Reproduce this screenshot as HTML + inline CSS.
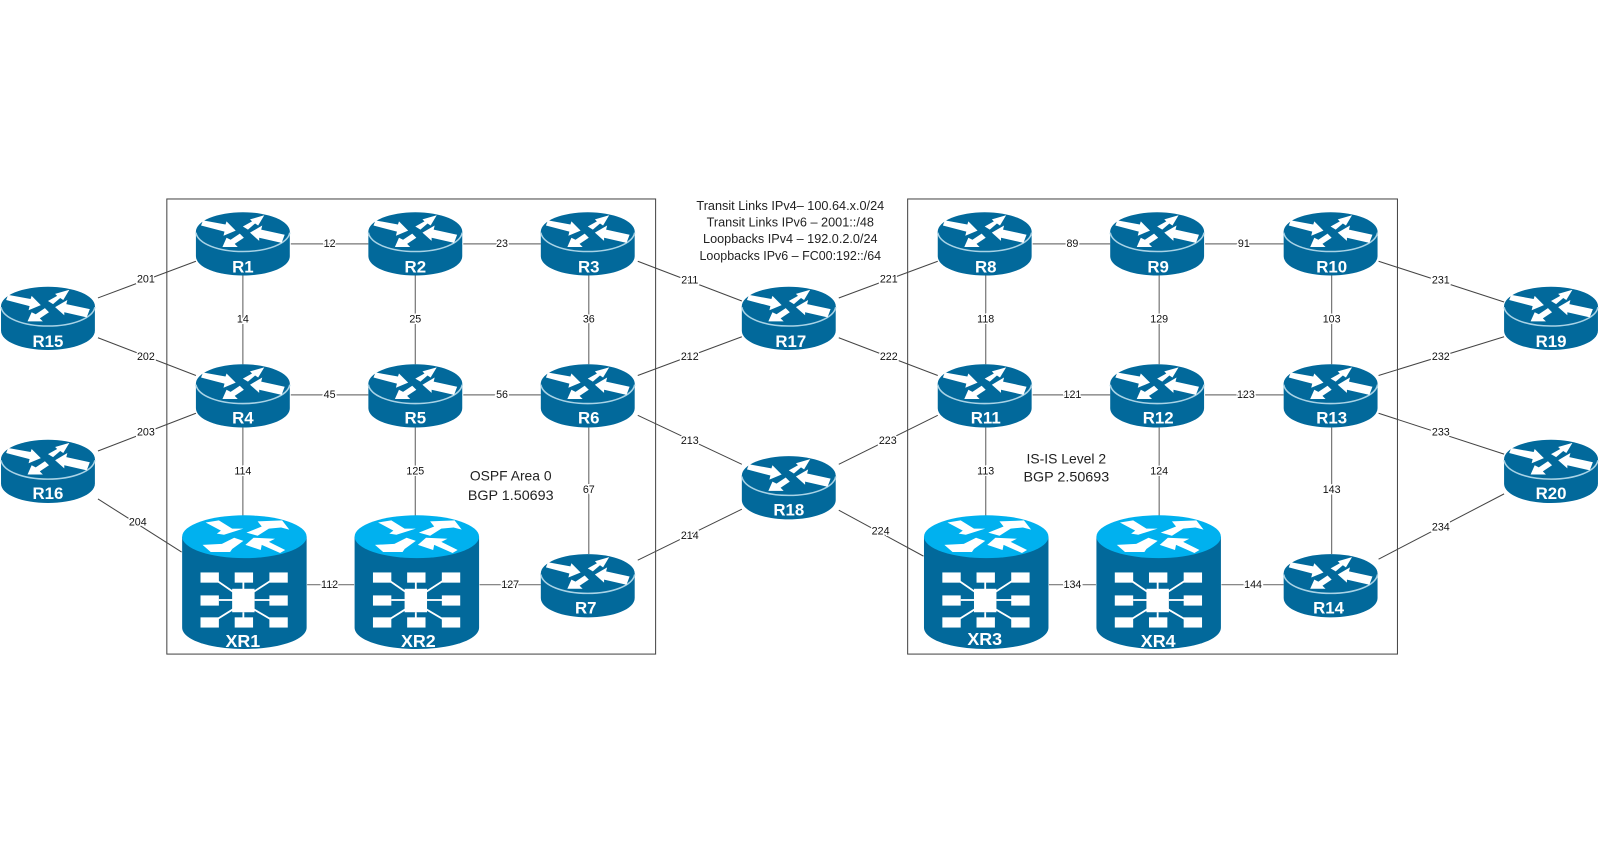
<!DOCTYPE html>
<html><head><meta charset="utf-8"><style>
html,body{margin:0;padding:0;background:#fff;width:1600px;height:850px;overflow:hidden}
svg{display:block}
.l line{stroke:#444;stroke-width:1}
.v line{stroke:#777;stroke-width:1.2}
.n text{font:10.5px "Liberation Sans",sans-serif;fill:#111;text-anchor:middle;stroke:#fff;stroke-width:3px;paint-order:stroke}
.t text{font:12.2px "Liberation Sans",sans-serif;fill:#222;text-anchor:middle}
.a text{font:13.6px "Liberation Sans",sans-serif;fill:#222;text-anchor:middle}
.r text{font:bold 16.5px "Liberation Sans",sans-serif;fill:#fff;text-anchor:middle}
.r text.x{font-size:17.5px}
</style></head><body>
<svg xmlns="http://www.w3.org/2000/svg" width="1600" height="850" viewBox="0 0 1568 833">
<defs>
<symbol id="rt" viewBox="0 0 92 62" width="92" height="62" overflow="visible">
<path d="M0,19V43C0,54 21,62 46,62S92,54 92,43V19Z" fill="#02699b"/>
<ellipse cx="46" cy="19" rx="46" ry="19" fill="#02699b" />
<path d="M0,20C2,31 22,38.500 46,38.500S90,31 92,20" fill="none" stroke="#a9d3e6" stroke-width="1.500"/>
<g fill="#fff">
<polygon points="5,13 7,8 29,12 30,9 39,18 27,23 28,19"/>
<polygon points="46,14 55,9 53,7 67,3 61,13 58,11 51,17"/>
<polygon points="53,20 65,13 64,17 87,22 84,30 62,25 62,28"/>
<polygon points="26,34 30,25 34,27 43,21 47,25 38,31 41,34"/>
</g>
</symbol>
<symbol id="xr" viewBox="0 0 122 131" width="122" height="131" overflow="visible">
<path d="M0,21V110C0,122 27,131 61,131S122,122 122,110V21Z" fill="#02699b"/>
<ellipse cx="61" cy="21" rx="61" ry="21" fill="#00b1ef"/>
<g fill="#fff">
<polygon points="23,7 36,5 49,13 60,13 41,19 34,18 38,15"/>
<polygon points="74,6 98,5 105,14 97,12 85,13 74,20 63,17 78,11"/>
<polygon points="20,29 39,28 51,22 60,25 49,33 47,36 28,36"/>
<polygon points="62,29 70,22 91,23 85,26 101,34 96,37 78,29 77,34"/>
<rect x="18" y="56" width="18" height="10"/><rect x="51.500" y="56" width="18" height="10"/><rect x="85.500" y="56" width="18" height="10"/>
<rect x="18" y="78.500" width="18" height="10"/><rect x="85.500" y="78.500" width="18" height="10"/>
<rect x="18" y="100" width="18" height="10"/><rect x="51.500" y="100" width="18" height="10"/><rect x="85.500" y="100" width="18" height="10"/>
<rect x="49" y="72" width="22" height="23"/>
</g>
<g stroke="#fff" stroke-width="1.800">
<line x1="60" y1="65" x2="60" y2="73"/><line x1="60" y1="95" x2="60" y2="101"/>
<line x1="36" y1="83" x2="50" y2="83"/><line x1="71" y1="83" x2="86" y2="83"/>
<line x1="34" y1="64" x2="50" y2="75"/><line x1="87" y1="64" x2="70" y2="75"/>
<line x1="34" y1="102" x2="50" y2="92"/><line x1="87" y1="102" x2="70" y2="92"/>
</g>
</symbol>
</defs>

<g fill="none" stroke="#444" stroke-width="1">
<rect x="163.500" y="195" width="479" height="446"/>
<rect x="889.500" y="195" width="480" height="446"/>
</g>

<g class="l">
<line x1="96" y1="292" x2="192" y2="256"/><line x1="96" y1="331" x2="192" y2="368"/>
<line x1="96" y1="442" x2="192" y2="405"/><line x1="96" y1="489" x2="178" y2="541"/>
<line x1="625" y1="256" x2="727" y2="295"/><line x1="625" y1="368" x2="727" y2="330"/>
<line x1="625" y1="407" x2="727" y2="455"/><line x1="625" y1="549" x2="727" y2="499"/>
<line x1="822" y1="292" x2="919" y2="256"/><line x1="822" y1="331" x2="919" y2="368"/>
<line x1="822" y1="455" x2="919" y2="407"/><line x1="822" y1="500" x2="905" y2="545"/>
<line x1="1351" y1="256" x2="1474" y2="296"/><line x1="1351" y1="368" x2="1474" y2="330"/>
<line x1="1351" y1="405" x2="1474" y2="445"/><line x1="1351" y1="548" x2="1474" y2="484"/>
</g>
<g class="v">
<line x1="285" y1="239" x2="361" y2="239"/><line x1="454" y1="239" x2="530" y2="239"/>
<line x1="285" y1="387" x2="361" y2="387"/><line x1="454" y1="387" x2="530" y2="387"/>
<line x1="301" y1="573" x2="347" y2="573"/><line x1="470" y1="573" x2="530" y2="573"/>
<line x1="238" y1="270" x2="238" y2="357"/><line x1="407" y1="270" x2="407" y2="357"/><line x1="577" y1="270" x2="577" y2="357"/>
<line x1="238" y1="419" x2="238" y2="506"/><line x1="407" y1="419" x2="407" y2="506"/><line x1="577" y1="419" x2="577" y2="543"/>
<line x1="1012" y1="239" x2="1088" y2="239"/><line x1="1181" y1="239" x2="1258" y2="239"/>
<line x1="1012" y1="387" x2="1088" y2="387"/><line x1="1181" y1="387" x2="1258" y2="387"/>
<line x1="1028" y1="573" x2="1074" y2="573"/><line x1="1197" y1="573" x2="1258" y2="573"/>
<line x1="966" y1="270" x2="966" y2="357"/><line x1="1136" y1="270" x2="1136" y2="357"/><line x1="1305" y1="270" x2="1305" y2="357"/>
<line x1="966" y1="419" x2="966" y2="506"/><line x1="1136" y1="419" x2="1136" y2="506"/><line x1="1305" y1="419" x2="1305" y2="543"/>
</g>

<g class="n">
<text x="143" y="277">201</text><text x="143" y="353">202</text><text x="143" y="427">203</text><text x="135" y="515">204</text>
<text x="323" y="242">12</text><text x="492" y="242">23</text><text x="238" y="316">14</text><text x="407" y="316">25</text><text x="577" y="316">36</text>
<text x="323" y="390">45</text><text x="492" y="390">56</text><text x="238" y="465">114</text><text x="407" y="465">125</text><text x="577" y="483">67</text>
<text x="323" y="576">112</text><text x="500" y="576">127</text>
<text x="676" y="278">211</text><text x="676" y="353">212</text><text x="676" y="435">213</text><text x="676" y="528">214</text>
<text x="871" y="277">221</text><text x="871" y="353">222</text><text x="870" y="435">223</text><text x="863" y="524">224</text>
<text x="1051" y="242">89</text><text x="1219" y="242">91</text><text x="966" y="316">118</text><text x="1136" y="316">129</text><text x="1305" y="316">103</text>
<text x="1051" y="390">121</text><text x="1221" y="390">123</text><text x="966" y="465">113</text><text x="1136" y="465">124</text><text x="1305" y="483">143</text>
<text x="1051" y="576">134</text><text x="1228" y="576">144</text>
<text x="1412" y="278">231</text><text x="1412" y="353">232</text><text x="1412" y="427">233</text><text x="1412" y="520">234</text>
</g>

<use href="#rt" x="192" y="208"/><use href="#rt" x="361" y="208"/><use href="#rt" x="530" y="208"/>
<use href="#rt" x="192" y="357"/><use href="#rt" x="361" y="357"/><use href="#rt" x="530" y="357"/>
<use href="#rt" x="530" y="543"/><use href="#rt" x="1" y="281"/><use href="#rt" x="1" y="431"/>
<use href="#rt" x="727" y="281"/><use href="#rt" x="727" y="447"/>
<use href="#rt" x="919" y="208"/><use href="#rt" x="1088" y="208"/><use href="#rt" x="1258" y="208"/>
<use href="#rt" x="919" y="357"/><use href="#rt" x="1088" y="357"/><use href="#rt" x="1258" y="357"/>
<use href="#rt" x="1258" y="543"/><use href="#rt" x="1474" y="281"/><use href="#rt" x="1474" y="431"/>
<use href="#xr" x="178.500" y="505"/><use href="#xr" x="347.500" y="505"/><use href="#xr" x="905.500" y="505"/><use href="#xr" x="1074.500" y="505"/>

<g class="r">
<text x="238" y="267">R1</text><text x="407" y="267">R2</text><text x="577" y="267">R3</text>
<text x="238" y="415">R4</text><text x="407" y="415">R5</text><text x="577" y="415">R6</text>
<text x="574" y="601">R7</text><text x="47" y="340">R15</text><text x="47" y="489">R16</text>
<text x="775" y="340">R17</text><text x="773" y="505">R18</text>
<text x="966" y="267">R8</text><text x="1135" y="267">R9</text><text x="1305" y="267">R10</text>
<text x="966" y="415">R11</text><text x="1135" y="415">R12</text><text x="1305" y="415">R13</text>
<text x="1302" y="601">R14</text><text x="1520" y="340">R19</text><text x="1520" y="489">R20</text>
<text class="x" x="238" y="634">XR1</text><text class="x" x="410" y="634">XR2</text><text class="x" x="965" y="632">XR3</text><text class="x" x="1135" y="634">XR4</text>
</g>

<g class="t">
<text x="774.500" y="206" textLength="184" lengthAdjust="spacingAndGlyphs">Transit Links IPv4– 100.64.x.0/24</text>
<text x="774.500" y="222" textLength="164" lengthAdjust="spacingAndGlyphs">Transit Links IPv6 – 2001::/48</text>
<text x="774.500" y="238" textLength="171" lengthAdjust="spacingAndGlyphs">Loopbacks IPv4 – 192.0.2.0/24</text>
<text x="774.500" y="255" textLength="178" lengthAdjust="spacingAndGlyphs">Loopbacks IPv6 – FC00:192::/64</text>
</g>
<g class="a">
<text x="500.500" y="471" textLength="80" lengthAdjust="spacingAndGlyphs">OSPF Area 0</text>
<text x="500.500" y="490" textLength="84" lengthAdjust="spacingAndGlyphs">BGP 1.50693</text>
<text x="1045" y="454" textLength="78" lengthAdjust="spacingAndGlyphs">IS-IS Level 2</text>
<text x="1045" y="472" textLength="84" lengthAdjust="spacingAndGlyphs">BGP 2.50693</text>
</g>
</svg>
</body></html>
